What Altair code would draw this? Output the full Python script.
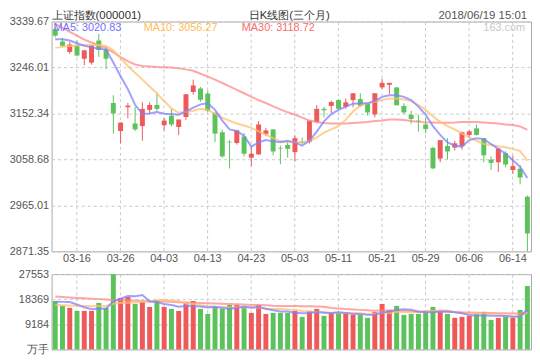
import altair as alt
import numpy as np
import pandas as pd

dates = ["03-13", "03-14", "03-15", "03-16", "03-19", "03-20", "03-21", "03-22", "03-23", "03-26",
         "03-27", "03-28", "03-29", "03-30", "04-02", "04-03", "04-04", "04-09", "04-10", "04-11",
         "04-12", "04-13", "04-16", "04-17", "04-18", "04-19", "04-20", "04-23", "04-24", "04-25",
         "04-26", "04-27", "05-02", "05-03", "05-04", "05-07", "05-08", "05-09", "05-10", "05-11",
         "05-14", "05-15", "05-16", "05-17", "05-18", "05-21", "05-22", "05-23", "05-24", "05-25",
         "05-28", "05-29", "05-30", "05-31", "06-01", "06-04", "06-05", "06-06", "06-07", "06-08",
         "06-11", "06-12", "06-13", "06-14", "06-15", "06-19"]

opens = [3324.1, 3298.9, 3277.7, 3290.9, 3263.8, 3255.8, 3300.9, 3283.0, 3173.6, 3116.6,
         3165.0, 3131.9, 3126.6, 3159.7, 3169.7, 3128.5, 3147.8, 3124.6, 3145.1, 3196.1,
         3203.4, 3192.9, 3153.7, 3114.0, 3094.7, 3092.1, 3105.3, 3062.2, 3068.9, 3110.0,
         3119.9, 3082.2, 3088.1, 3073.5, 3094.7, 3094.7, 3134.5, 3161.7, 3167.6, 3179.6,
         3165.7, 3179.6, 3181.6, 3171.6, 3150.4, 3205.4, 3210.7, 3205.4, 3167.6, 3149.7,
         3137.8, 3129.9, 3082.2, 3060.3, 3086.1, 3082.8, 3085.5, 3108.6, 3121.9, 3102.0,
         3058.3, 3052.9, 3071.5, 3037.1, 3039.7, 2982.7]
highs = [3328.7, 3306.2, 3298.2, 3300.9, 3282.0, 3292.3, 3314.2, 3289.0, 3189.5, 3134.0,
         3173.6, 3165.7, 3175.0, 3175.0, 3193.5, 3143.1, 3161.7, 3140.0, 3192.0, 3221.3,
         3206.1, 3198.8, 3154.0, 3119.3, 3098.0, 3118.0, 3112.6, 3084.8, 3136.5, 3123.2,
         3120.0, 3086.8, 3094.7, 3107.3, 3103.3, 3138.0, 3169.7, 3165.7, 3178.3, 3181.6,
         3182.9, 3194.0, 3193.5, 3172.0, 3194.0, 3222.7, 3215.0, 3206.0, 3173.0, 3157.7,
         3149.7, 3143.1, 3084.8, 3098.0, 3102.0, 3096.7, 3115.3, 3117.9, 3129.9, 3102.0,
         3064.9, 3081.0, 3075.5, 3066.2, 3047.0, 2985.4]
lows = [3307.5, 3287.6, 3273.7, 3268.4, 3250.5, 3251.8, 3267.7, 3242.6, 3111.3, 3091.4,
        3142.5, 3116.6, 3096.7, 3152.4, 3156.4, 3117.9, 3126.6, 3108.6, 3139.1, 3190.9,
        3176.3, 3155.0, 3094.1, 3062.3, 3040.4, 3088.8, 3064.9, 3045.0, 3068.0, 3106.0,
        3066.9, 3049.0, 3062.2, 3054.9, 3090.1, 3091.4, 3132.5, 3144.5, 3153.7, 3161.0,
        3161.7, 3165.0, 3165.7, 3148.4, 3144.5, 3202.1, 3192.2, 3169.0, 3151.1, 3131.2,
        3115.3, 3112.0, 3039.0, 3052.9, 3058.3, 3076.8, 3078.8, 3102.0, 3107.3, 3052.9,
        3037.1, 3033.1, 3042.4, 3029.1, 3007.9, 2871.35]
closes = [3310.8, 3290.3, 3292.9, 3270.4, 3281.0, 3290.9, 3281.7, 3263.8, 3152.4, 3133.8,
          3168.3, 3119.9, 3161.7, 3169.7, 3161.7, 3137.8, 3129.9, 3139.8, 3191.5, 3209.4,
          3180.2, 3157.7, 3111.3, 3064.9, 3093.4, 3117.9, 3070.2, 3070.2, 3129.9, 3117.9,
          3074.9, 3080.8, 3080.2, 3102.0, 3092.1, 3137.8, 3161.7, 3159.0, 3175.6, 3161.7,
          3175.0, 3193.5, 3167.6, 3154.4, 3193.5, 3214.7, 3214.7, 3169.0, 3154.4, 3141.1,
          3135.8, 3120.6, 3040.4, 3098.0, 3074.9, 3091.4, 3114.0, 3115.9, 3108.6, 3066.9,
          3051.7, 3080.8, 3048.3, 3045.0, 3021.8, 2907.8]

ma5 = [3303.5, 3303.5, 3300.9, 3295.5, 3290.3, 3287.0, 3284.4, 3282.4, 3256.0, 3228.0,
       3202.0, 3170.0, 3151.1, 3152.3, 3155.1, 3151.7, 3151.1, 3149.6, 3156.3, 3164.3,
       3170.9, 3173.0, 3159.7, 3137.8, 3119.9, 3116.6, 3106.6, 3084.8, 3093.5, 3098.1,
       3095.5, 3093.5, 3096.7, 3093.5, 3086.7, 3096.7, 3115.4, 3136.4, 3151.1, 3159.7,
       3166.3, 3172.3, 3173.0, 3173.0, 3177.6, 3186.2, 3189.5, 3189.5, 3186.2, 3179.6,
       3166.3, 3149.6, 3126.5, 3108.6, 3093.5, 3086.7, 3084.8, 3098.1, 3102.0, 3100.1,
       3090.1, 3080.2, 3070.2, 3056.9, 3043.6, 3020.8]
ma10 = [3286.0, 3288.0, 3290.0, 3290.9, 3292.0, 3292.3, 3292.0, 3290.0, 3281.0, 3265.1,
        3249.2, 3235.3, 3221.3, 3207.4, 3193.5, 3177.6, 3162.7, 3153.7, 3155.7, 3157.7,
        3161.7, 3159.7, 3151.7, 3143.8, 3137.8, 3131.9, 3127.9, 3122.9, 3115.9, 3109.0,
        3102.0, 3096.1, 3094.1, 3093.5, 3093.5, 3096.1, 3103.4, 3113.4, 3119.9, 3126.5,
        3139.8, 3156.3, 3168.3, 3173.0, 3176.2, 3179.6, 3183.0, 3183.0, 3181.0, 3177.6,
        3169.6, 3159.7, 3146.4, 3135.2, 3126.5, 3120.0, 3111.4, 3103.4, 3096.7, 3090.1,
        3088.1, 3085.5, 3083.5, 3080.2, 3075.6, 3056.3]
ma30 = [3334.7, 3326.7, 3318.8, 3310.8, 3302.9, 3296.9, 3290.9, 3285.0, 3277.0, 3267.1,
        3259.1, 3252.2, 3249.2, 3248.2, 3247.2, 3246.6, 3245.8, 3244.2, 3242.2, 3239.3,
        3233.3, 3227.3, 3221.3, 3214.4, 3207.4, 3200.5, 3193.5, 3186.2, 3179.6, 3173.6,
        3166.7, 3160.7, 3154.7, 3149.7, 3143.8, 3137.8, 3134.8, 3132.8, 3131.9, 3131.9,
        3131.9, 3132.8, 3133.8, 3134.8, 3136.8, 3137.8, 3139.8, 3139.8, 3138.8, 3136.8,
        3135.2, 3134.2, 3133.8, 3133.2, 3133.2, 3133.8, 3134.8, 3135.2, 3134.8, 3133.8,
        3132.8, 3131.9, 3129.9, 3128.9, 3125.9, 3118.7]

volumes = [17732, 15912, 15184, 14093, 14093, 14093, 17004, 15184, 27553, 18824,
           19188, 16640, 17368, 15548, 18095, 15548, 14821, 14093, 17004, 17732,
           14821, 12999, 15548, 14821, 16277, 16277, 15548, 13366, 16277, 12999,
           13366, 13366, 13366, 14093, 11910, 14093, 14821, 12274, 13366, 13366,
           12999, 12637, 12637, 11546, 13729, 16640, 14457, 15912, 12637, 12999,
           12999, 13729, 15548, 14093, 12999, 11546, 11910, 12274, 12999, 13729,
           10819, 11546, 11910, 11546, 14457, 23191]
vma5 = [17472, 17400, 17326, 16453, 15403, 14675, 14893, 14893, 17586, 18533,
        19552, 19479, 19916, 17514, 17368, 16640, 16276, 15621, 15912, 15840,
        15694, 15330, 15621, 15184, 14893, 15184, 15694, 15258, 15549, 14893,
        14311, 13875, 13875, 13438, 13220, 13366, 13657, 13438, 13293, 13584,
        13365, 12928, 13001, 12637, 12710, 13438, 13802, 14457, 14675, 14529,
        13801, 13655, 13582, 13874, 13874, 13583, 13219, 12564, 12346, 12492,
        12346, 12273, 12201, 11910, 12056, 14530]
vma10 = [16300, 16200, 16100, 16000, 15900, 15800, 15900, 15900, 16700, 16968,
         17113, 17186, 17405, 17550, 17950, 18096, 17877, 17768, 16713, 16604,
         16167, 15803, 15621, 15548, 15366, 15439, 15512, 15439, 15367, 14893,
         14748, 14785, 14566, 14494, 14057, 13838, 13766, 13657, 13365, 13402,
         13365, 13293, 13220, 12965, 13147, 13402, 13365, 13729, 13656, 13619,
         13619, 13729, 14020, 14274, 14201, 13692, 13437, 13073, 13110, 13183,
         12965, 12746, 12383, 12128, 12274, 13438]
vma30 = [19400, 19200, 19000, 18850, 18700, 18550, 18400, 18250, 18100, 18000,
         17900, 17800, 17700, 17600, 17550, 17500, 17400, 17300, 17200, 17100,
         17000, 16900, 16800, 16700, 16600, 16500, 16400, 16300, 16230, 16155,
         16009, 15925, 15864, 15864, 15791, 15791, 15718, 15621, 15148, 14966,
         14760, 14627, 14469, 14336, 14190, 14226, 14214, 14275, 14129, 13972,
         13911, 13935, 13935, 13911, 13802, 13644, 13523, 13486, 13377, 13401,
         13316, 13256, 13207, 13122, 13207, 13511]

price_ticks = [2871.35, 2965.01, 3058.68, 3152.34, 3246.01, 3339.67]
vol_ticks = [0, 9184, 18369, 27553]
date_ticks = ["03-16", "03-26", "04-03", "04-13", "04-23", "05-03",
              "05-11", "05-21", "05-29", "06-06", "06-14"]
header_left = "上证指数(000001)"
header_mid = "日K线图(三个月)"
header_right = "2018/06/19 15:01"
ma_labels = ["MA5: 3020.83", "MA10: 3056.27", "MA30: 3118.72"]
watermark = "163.com"

df = pd.DataFrame({
    "date": dates, "open": opens, "high": highs, "low": lows, "close": closes,
    "vol": volumes, "ma5": ma5, "ma10": ma10, "ma30": ma30,
    "vma5": vma5, "vma10": vma10, "vma30": vma30,
})
df["dir"] = np.where(df["close"] >= df["open"], "up", "down")

FONT = "Liberation Sans"
RED = "#ee5a5a"
GREEN = "#5cc25c"
GRID = "#c8c8c8"
LABEL = "#555555"
MA_COLORS = ["#8080ff", "#ffbf70", "#ff8a8a"]
MA_TEXT = ["#7070ff", "#ffbb55", "#ff6a6a"]
W = 484
H_TOP = 232
H_VOL = 76

color = alt.Color("dir:N", scale=alt.Scale(domain=["up", "down"], range=[RED, GREEN]), legend=None)
xscale = alt.Scale(paddingInner=0, paddingOuter=0)

x_top = alt.X("date:O", sort=None, title=None, scale=xscale,
              axis=alt.Axis(values=date_ticks, labelAngle=0, ticks=False, domain=False,
                            grid=True, gridDash=[3, 3], gridColor=GRID, bandPosition=0.5,
                            labelFontSize=11, labelColor=LABEL, labelFont=FONT, labelPadding=1))
x_vol = alt.X("date:O", sort=None, title=None, scale=xscale,
              axis=alt.Axis(values=date_ticks, labels=False, ticks=False, domain=False,
                            grid=True, gridDash=[3, 3], gridColor=GRID, bandPosition=0.5))

ys_p = alt.Scale(domain=[price_ticks[0], price_ticks[-1]], nice=False, zero=False)
ya_p = alt.Axis(values=price_ticks, format=".2f", ticks=False, domain=False, grid=True,
                gridDash=[3, 3], gridColor=GRID, labelFontSize=11, labelColor=LABEL,
                labelFont=FONT, labelPadding=3, labelFlush=False, title=None)

def py(field):
    return alt.Y(f"{field}:Q", scale=ys_p, axis=ya_p, title=None)

base = alt.Chart(df)
wick = base.mark_rule(strokeWidth=1).encode(x=x_top, y=py("low"), y2="high:Q", color=color)
body = base.mark_bar(size=5).encode(x=x_top, y=py("open"), y2="close:Q", color=color)
ma_lines = [
    base.mark_line(color=c, strokeWidth=2, opacity=0.75).encode(x=x_top, y=py(f))
    for f, c in zip(["ma30", "ma10", "ma5"], [MA_COLORS[2], MA_COLORS[1], MA_COLORS[0]])
]

def text_layer(txt, x, y, align, color, size=11, baseline="middle", font=FONT):
    return alt.Chart(pd.DataFrame({"t": [txt]})).mark_text(
        align=align, baseline=baseline, fontSize=size, font=font, color=color
    ).encode(text="t:N", x=alt.value(x), y=alt.value(y))

texts = [
    text_layer(header_left, 0, -11.5, "left", "#333333", 11.5, "top"),
    text_layer(header_mid, 240, -11.5, "center", "#333333", 11.5, "top"),
    text_layer(header_right, 480, -11.5, "right", LABEL, 11.5, "top"),
    text_layer(watermark, 478, 7, "right", "#c8c8c8", 11),
    text_layer(ma_labels[0], 2, 7, "left", MA_TEXT[0]),
    text_layer(ma_labels[1], 93, 7, "left", MA_TEXT[1]),
    text_layer(ma_labels[2], 192, 7, "left", MA_TEXT[2]),
]

top = alt.layer(wick, body, *ma_lines, *texts).properties(width=W, height=H_TOP)

ys_v = alt.Scale(domain=[0, vol_ticks[-1]], nice=False)
ya_v = alt.Axis(values=vol_ticks, format="d", labelExpr="datum.value == 0 ? '万手' : datum.label",
                ticks=False, domain=False, grid=True, gridDash=[3, 3], gridColor=GRID,
                labelFontSize=11, labelColor=LABEL, labelFont=FONT, labelPadding=3,
                labelFlush=False, title=None)

def vy(field):
    return alt.Y(f"{field}:Q", scale=ys_v, axis=ya_v, title=None)

vbars = base.mark_bar(size=5).encode(x=x_vol, y=vy("vol"), color=color)
vlines = [
    base.mark_line(color=c, strokeWidth=2, opacity=0.75).encode(x=x_vol, y=vy(f))
    for f, c in zip(["vma30", "vma10", "vma5"], [MA_COLORS[2], MA_COLORS[1], MA_COLORS[0]])
]
bottom = alt.layer(vbars, *vlines).properties(width=W, height=H_VOL)

chart = alt.vconcat(top, bottom, spacing=23, bounds="flush").properties(
    padding=0, background="white"
).configure_view(stroke="#aaaaaa", strokeWidth=1)

chart.save("out.html", embed_options={"renderer": "svg", "actions": False})
